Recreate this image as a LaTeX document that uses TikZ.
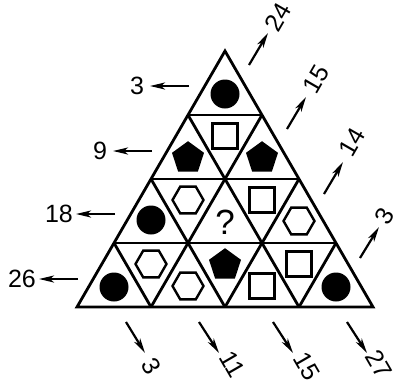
\documentclass[tikz,border=0pt]{standalone}
\usepackage{fontspec}
\setmainfont{Liberation Sans}
\usetikzlibrary{arrows.meta}
\begin{document}
\begin{tikzpicture}[x=1pt,y=-1pt,
  grid/.style={line width=2.8pt, line join=miter},
  dot/.style={circle, fill=black, minimum size=29pt, inner sep=0pt},
  hexline/.style={draw=black, line width=2.4pt, line join=miter},
  sq/.style={rectangle, draw=black, line width=2.4pt, minimum size=25pt, inner sep=0pt},
  lab/.style={font=\fontsize{25}{25}\selectfont, inner sep=0pt},
  arr/.style={line width=2.2pt, -{Stealth[length=15pt,width=7pt,inset=4pt]}},
]
\useasboundingbox (0,0) rectangle (396,384);
% triangle vertices
\coordinate (T) at (225,51);
\coordinate (L) at (77,307);
\coordinate (R) at (373,307);
\coordinate (l1) at (188,115);
\coordinate (l2) at (151,179);
\coordinate (l3) at (114,243);
\coordinate (r1) at (262,115);
\coordinate (r2) at (299,179);
\coordinate (r3) at (336,243);
\coordinate (b1) at (151,307);
\coordinate (b2) at (225,307);
\coordinate (b3) at (299,307);
% grid
\draw[grid] (l1) -- (r1) (l2) -- (r2) (l3) -- (r3);
\draw[grid] (b1) -- (r1) (b2) -- (r2) (b3) -- (r3);
\draw[grid] (b1) -- (l3) (b2) -- (l2) (b3) -- (l1);
\draw[grid] (T) -- (L) -- (R) -- cycle;
% shape centres
\coordinate (p10) at (188,158);
\coordinate (p12) at (262,158);
\coordinate (p33) at (225,265);
\coordinate (h21) at (188,200);
\coordinate (h24) at (299,221);
\coordinate (h31) at (151,264);
\coordinate (h32) at (188,286);
% pentagons
\foreach \c in {p10,p12,p33}{
  \fill[shift={(\c)}] (-90:16.8) -- (-18:16.8) -- (54:16.8) -- (126:16.8) -- (198:16.8) -- cycle;
}
% hexagons
\foreach \c in {h21,h24,h31,h32}{
  \draw[hexline, shift={(\c)}] (0:15.5) -- (60:15.5) -- (120:15.5) -- (180:15.5) -- (240:15.5) -- (300:15.5) -- cycle;
}
% circles and squares
\node[dot] (s00) at (225,94) {};
\node[sq] (s11) at (225,136) {};
\node[dot] (s20) at (151,220) {};
\node[font=\fontsize{35}{35}\selectfont, inner sep=0pt] (q) at (225,222) {?};
\node[sq] (s23) at (262,200) {};
\node[dot] (s30) at (114,287) {};
\node[sq] (s34) at (262,286) {};
\node[sq] (s35) at (299,264) {};
\node[dot] (s36) at (336,287) {};
% left labels
\coordinate (la1) at (189,86);  \coordinate (lb1) at (150,86);
\coordinate (la2) at (152,151); \coordinate (lb2) at (113,151);
\coordinate (la3) at (115,214); \coordinate (lb3) at (76,214);
\coordinate (la4) at (78,279);  \coordinate (lb4) at (39,279);
\draw[arr] (la1) -- (lb1);
\draw[arr] (la2) -- (lb2);
\draw[arr] (la3) -- (lb3);
\draw[arr] (la4) -- (lb4);
\node[lab] (nl1) at (137,86) {3};
\node[lab] (nl2) at (100,151) {9};
\node[lab] (nl3) at (59,214) {18};
\node[lab] (nl4) at (22,279) {26};
% right labels
\coordinate (ra1) at (249,65);  \coordinate (rb1) at (268,33);
\coordinate (ra2) at (287,129); \coordinate (rb2) at (306,97);
\coordinate (ra3) at (324,194); \coordinate (rb3) at (343,162);
\coordinate (ra4) at (360,258); \coordinate (rb4) at (379,227);
\draw[arr] (ra1) -- (rb1);
\draw[arr] (ra2) -- (rb2);
\draw[arr] (ra3) -- (rb3);
\draw[arr] (ra4) -- (rb4);
\node[lab, rotate=60] (nr1) at (278,17) {24};
\node[lab, rotate=60] (nr2) at (316,79) {15};
\node[lab, rotate=60] (nr3) at (352,142) {14};
\node[lab, rotate=60] (nr4) at (385,216) {3};
% bottom labels
\coordinate (ba1) at (126,322); \coordinate (bb1) at (145,353);
\coordinate (ba2) at (199,322); \coordinate (bb2) at (219,353);
\coordinate (ba3) at (273,322); \coordinate (bb3) at (293,353);
\coordinate (ba4) at (347,322); \coordinate (bb4) at (367,353);
\draw[arr] (ba1) -- (bb1);
\draw[arr] (ba2) -- (bb2);
\draw[arr] (ba3) -- (bb3);
\draw[arr] (ba4) -- (bb4);
\node[lab, rotate=-60] (nb1) at (151,366) {3};
\node[lab, rotate=-60] (nb2) at (232,364) {11};
\node[lab, rotate=-60] (nb3) at (307,366) {15};
\node[lab, rotate=-60] (nb4) at (379,364) {27};
\end{tikzpicture}
\end{document}
